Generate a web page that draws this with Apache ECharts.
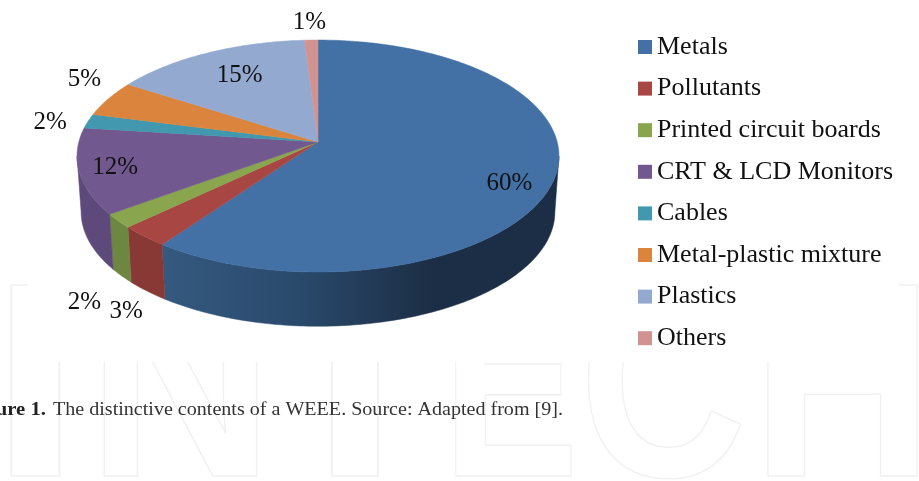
<!DOCTYPE html>
<html>
<head>
  <meta charset="utf-8">
  <title>WEEE contents</title>
  <script src="https://cdn.jsdelivr.net/npm/echarts@6/dist/echarts.min.js"></script>
  <style>
    html, body { margin: 0; padding: 0; background: #fff; overflow: hidden; }
    #main { width: 919px; height: 481px; }
  </style>
</head>
<body>
<div id="main"></div>
<script>
  // data
  var categories = ['Metals', 'Pollutants', 'Printed circuit boards', 'CRT & LCD Monitors', 'Cables', 'Metal-plastic mixture', 'Plastics', 'Others'];
  var percents = [60, 3, 2, 12, 2, 5, 15, 1];
  var topColors = ['#4371a6', '#a84644', '#89a54e', '#71588f', '#4198af', '#db843d', '#93a9cf', '#d19392'];
  var sideColors = [null, '#883835', '#6e8740', '#5e4a7a', '#357d92', '#b06a30', '#7a8cac', '#a87675'];

  // label offset from the rim at the middle of each slice
  var labelNudge = [[-45, 5], [-18, 75], [-34, 82], [36, -4], [-38, 1], [-24, -19], [32, 23], [-2, -18]];

  // tilted pie: disc seen in perspective, so apex is above the ellipse centre
  var apexX = 318, apexY = 142, scaleX = 239.2, scaleY = 114.3, persp = 0.1207;
  var faceCenterY = 156, wallCenterY = 212, wallShrinkX = 0.983, wallShrinkY = 0.985;
  var frontFrom = 97, frontTo = 263; // degrees of rim facing the viewer

  var total = percents.reduce(function (a, b) { return a + b; }, 0);

  function rimPoint(deg) {
    var t = deg * Math.PI / 180;
    var u = Math.sin(t), v = -Math.cos(t);
    var w = 1 - persp * v;
    return [apexX + scaleX * u / w, apexY + scaleY * v / w];
  }
  function wallPoint(p) {
    return [apexX + (p[0] - apexX) * wallShrinkX, wallCenterY + (p[1] - faceCenterY) * wallShrinkY];
  }
  function arc(a, b) {
    var pts = [];
    var n = Math.max(2, Math.ceil(b - a));
    for (var i = 0; i <= n; i++) pts.push(rimPoint(a + (b - a) * i / n));
    return pts;
  }

  var metalSide = new echarts.graphic.LinearGradient(162, 0, 430, 0, [
    { offset: 0, color: '#35597f' },
    { offset: 0.5, color: '#2a4a6c' },
    { offset: 1, color: '#1c2e45' }
  ], true);

  function renderSlice(params, api) {
    var idx = params.seriesIndex;
    var before = 0;
    for (var i = 0; i < idx; i++) before += percents[i];
    var start = before / total * 360;
    var end = start + api.value(0) / total * 360;
    var children = [];

    // side wall
    var a = Math.max(start, frontFrom), b = Math.min(end, frontTo);
    if (b > a) {
      var rim = arc(a, b);
      var wall = rim.concat(rim.map(wallPoint).reverse());
      var fill = sideColors[idx] || metalSide;
      children.push({
        type: 'polygon',
        shape: { points: wall },
        style: { fill: fill, stroke: fill, lineWidth: 0.5 }
      });
    }

    // top face
    var top = [[apexX, apexY]].concat(arc(start, end));
    children.push({
      type: 'polygon',
      shape: { points: top },
      style: { fill: topColors[idx], stroke: topColors[idx], lineWidth: 0.5 }
    });

    var mid = rimPoint((start + end) / 2);
    children.push({
      type: 'text',
      x: mid[0] + labelNudge[idx][0],
      y: mid[1] + labelNudge[idx][1],
      z2: 10,
      style: {
        text: api.value(0) + '%',
        fill: '#111',
        fontFamily: 'Liberation Serif',
        fontSize: 25,
        align: 'center',
        verticalAlign: 'middle'
      }
    });
    return { type: 'group', children: children };
  }

  var series = categories.map(function (name, i) {
    return {
      name: name,
      type: 'custom',
      coordinateSystem: 'none',
      clip: false,
      silent: true,
      animation: false,
      itemStyle: { color: topColors[i] },
      renderItem: renderSlice,
      data: [[percents[i]]]
    };
  });

  // pale INTECH watermark behind the chart
  var markLetters = ['I', 'N', 'T', 'E', 'C', 'H'];
  var markLeft = [-11, 87, 257, 442, 579, 751];
  var markScale = [1.25, 0.97, 1.2, 0.77, 0.87, 0.95];
  var graphics = markLetters.map(function (ch, i) {
    return {
      type: 'text',
      x: markLeft[i],
      y: 399.5,
      scaleX: markScale[i],
      scaleY: 1.04,
      z: 0,
      silent: true,
      style: {
        text: ch,
        fontFamily: 'Liberation Sans',
        fontWeight: 'bold',
        fontSize: 267,
        fill: 'transparent',
        stroke: '#f1f1f1',
        lineWidth: 1.5,
        align: 'left',
        verticalAlign: 'middle'
      }
    };
  });
  graphics.push({
    type: 'rect',
    shape: { x: 28, y: 0, width: 871, height: 362 },
    style: { fill: '#fff' },
    z: 1,
    silent: true
  });
  graphics.push({
    type: 'text',
    x: 46,
    y: 410,
    scaleX: 1.15,
    z: 2,
    silent: true,
    style: {
      text: 'Figure 1.',
      fontFamily: 'Liberation Serif',
      fontWeight: 'bold',
      fontSize: 18,
      fill: '#222',
      align: 'right',
      verticalAlign: 'middle'
    }
  });
  graphics.push({
    type: 'text',
    x: 53,
    y: 410,
    scaleX: 1.115,
    z: 2,
    silent: true,
    style: {
      text: 'The distinctive contents of a WEEE. Source: Adapted from [9].',
      fontFamily: 'Liberation Serif',
      fontSize: 18,
      fill: '#333',
      align: 'left',
      verticalAlign: 'middle'
    }
  });

  var myChart = echarts.init(document.getElementById('main'));
  var option = {
    backgroundColor: '#fff',
    animation: false,
    legend: {
      orient: 'vertical',
      left: 638,
      top: 34,
      padding: 0,
      itemWidth: 14,
      itemHeight: 14,
      itemGap: 15.6,
      icon: 'rect',
      selectedMode: false,
      data: categories,
      textStyle: {
        fontFamily: 'Liberation Serif',
        fontSize: 26,
        lineHeight: 26,
        color: '#111'
      }
    },
    graphic: { elements: graphics },
    series: series
  };
  myChart.setOption(option);
</script>
</body>
</html>
